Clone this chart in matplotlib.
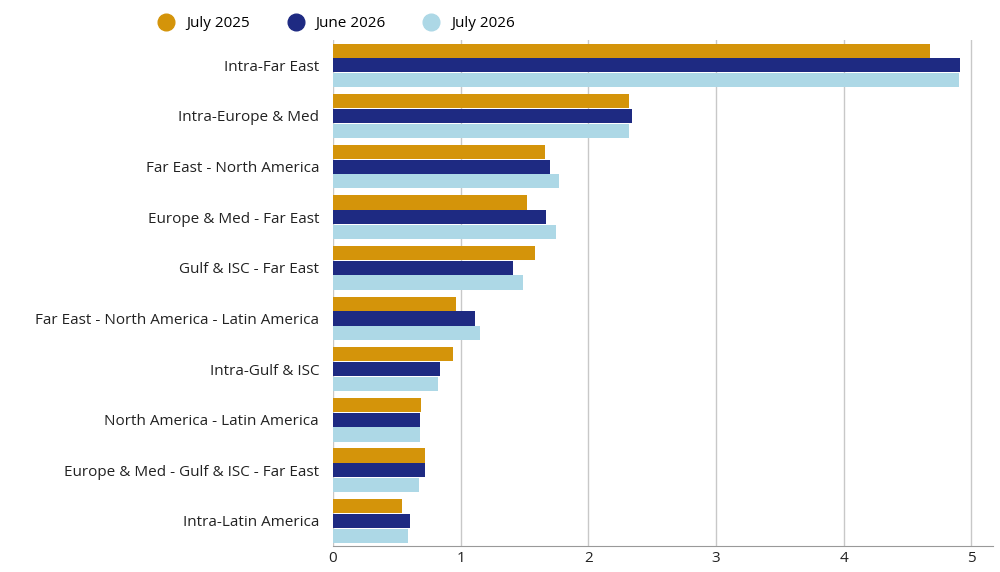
import numpy as np
import matplotlib.pyplot as plt

routes = ['Intra-Far East', 'Intra-Europe & Med', 'Far East - North America',
          'Europe & Med - Far East', 'Gulf & ISC - Far East',
          'Far East - North America - Latin America', 'Intra-Gulf & ISC',
          'North America - Latin America', 'Europe & Med - Gulf & ISC - Far East',
          'Intra-Latin America']
jul25 = [4.68, 2.32, 1.66, 1.52, 1.58, 0.96, 0.94, 0.69, 0.72, 0.54]
jun26 = [4.91, 2.34, 1.70, 1.67, 1.41, 1.11, 0.84, 0.68, 0.72, 0.60]
jul26 = [4.90, 2.32, 1.77, 1.75, 1.49, 1.15, 0.82, 0.68, 0.67, 0.59]

series = [('July 2025', jul25, '#D4940A'),
          ('June 2026', jun26, '#1E2A82'),
          ('July 2026', jul26, '#ADD8E6')]

plt.rcParams['font.family'] = ['Open Sans', 'DejaVu Sans']
fig = plt.figure(figsize=(10, 5.72), dpi=100)
ax = fig.add_axes([0.333, 0.045, 0.66, 0.885])

y = np.arange(len(routes))
h = 0.28
for i, (name, vals, col) in enumerate(series):
    ax.barh(y + (i - 1) * h * 1.04, vals, height=h, color=col, label=name, zorder=2)

ax.set_yticks(y)
ax.set_yticklabels(routes, fontsize=11, color='#222222')
ax.invert_yaxis()
ax.set_ylim(len(routes) - 0.5, -0.5)
ax.set_xlim(0, 5.17)
ax.set_xticks([0, 1, 2, 3, 4, 5])
ax.tick_params(axis='x', labelsize=11, length=0, colors='#222222')
ax.tick_params(axis='y', length=0, pad=10)
ax.grid(axis='x', color='#c8c8c8', linewidth=1, zorder=0)
for s in ['top', 'right', 'left']:
    ax.spines[s].set_visible(False)
ax.spines['bottom'].set_color('#999999')

ax.legend(loc='lower center', bbox_to_anchor=(0.2, 1.0), ncol=3, frameon=False,
          fontsize=11, handlelength=1.0, handleheight=1.0, columnspacing=2.0,
          borderaxespad=0.3)
handles = ax.get_legend().legend_handles
leg = ax.get_legend()
for h_ in handles:
    h_.set_visible(False)
from matplotlib.lines import Line2D
mk = [Line2D([], [], marker='o', linestyle='', markersize=12, color=c) for _, _, c in series]
ax.legend(mk, [s[0] for s in series], loc='lower center', bbox_to_anchor=(0.0, 1.0),
          ncol=3, frameon=False, fontsize=11, handletextpad=0.3, columnspacing=2.0,
          borderaxespad=0.2)

fig.savefig('out.png', dpi=100)
